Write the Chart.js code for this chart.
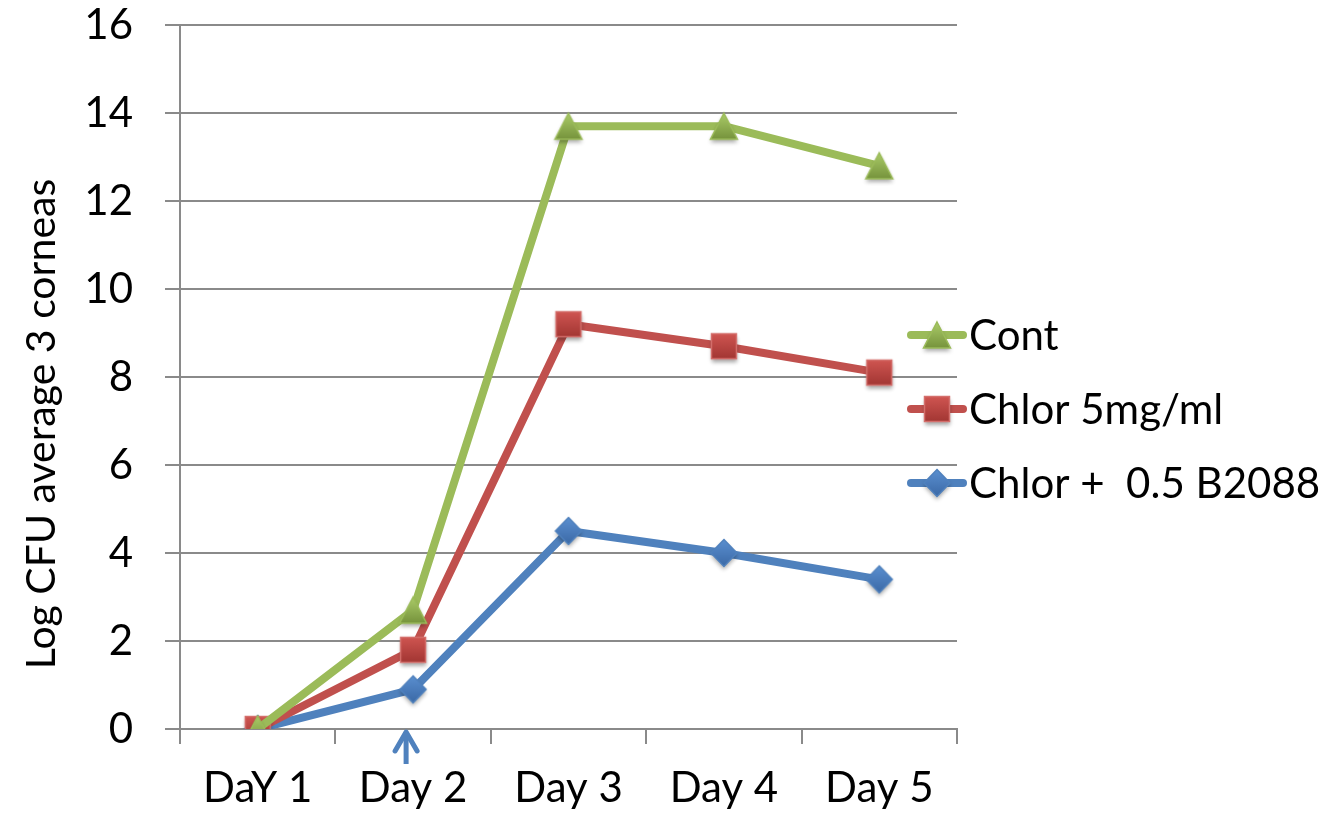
<!DOCTYPE html>
<html>
<head>
<meta charset="utf-8">
<script src="https://cdn.jsdelivr.net/npm/chart.js@4/dist/chart.umd.min.js"></script>
<style>
  html, body { margin: 0; padding: 0; background: #ffffff; }
  #c { display: block; }
</style>
</head>
<body>
<canvas id="c" width="1328" height="816"></canvas>
<script>
// ---- data ----
const days = ['DaY 1', 'Day 2', 'Day 3', 'Day 4', 'Day 5'];
const contValues = [0, 2.7, 13.7, 13.7, 12.8];
const chlorValues = [0, 1.8, 9.2, 8.7, 8.1];
const chlorB2088Values = [0, 0.9, 4.5, 4.0, 3.4];
const seriesNames = ['Cont', 'Chlor 5mg/ml', 'Chlor +  0.5 B2088'];
const yMin = 0, yMax = 16, yStep = 2;
const yTitle = 'Log CFU average 3 corneas';
const treatmentDayIndex = 1; // arrow under this day

// ---- styling ----
const FONT = 'Lato, "Open Sans", "Liberation Sans", sans-serif';
const FS = 42;
const GRID = '#8a8a8a';
const GREEN = '#9bbb59', RED = '#c0504d', BLUE = '#4f81bd';

// Marker images with a soft gradient and drop shadow
function makeMarker(kind) {
  const S = 44, c = S / 2;
  const cv = document.createElement('canvas');
  cv.width = S; cv.height = S;
  const g = cv.getContext('2d');
  g.shadowColor = 'rgba(0,0,0,0.35)';
  g.shadowBlur = 4;
  g.shadowOffsetY = 3;
  g.beginPath();
  let top, bottom, light, dark, edge;
  if (kind === 'triangle') {
    g.moveTo(c, c - 13); g.lineTo(c + 13.5, c + 13); g.lineTo(c - 13.5, c + 13);
    top = c - 13; bottom = c + 13; light = '#aacb68'; dark = '#76933c'; edge = '#9bbb59';
  } else if (kind === 'square') {
    g.rect(c - 12.5, c - 12.5, 25, 25);
    top = c - 12.5; bottom = c + 12.5; light = '#cf5551'; dark = '#a23633'; edge = '#d46f6c';
  } else {
    g.moveTo(c, c - 13.5); g.lineTo(c + 13, c); g.lineTo(c, c + 13.5); g.lineTo(c - 13, c);
    top = c - 13.5; bottom = c + 13.5; light = '#5a8fd0'; dark = '#3b69a6'; edge = '#4f81bd';
  }
  g.closePath();
  const grad = g.createLinearGradient(0, top, 0, bottom);
  grad.addColorStop(0, light);
  grad.addColorStop(1, dark);
  g.fillStyle = grad;
  g.fill();
  g.shadowColor = 'transparent';
  g.lineWidth = 1.5;
  g.strokeStyle = edge;
  g.stroke();
  return cv;
}
const markers = [makeMarker('triangle'), makeMarker('square'), makeMarker('diamond')];
const colors = [GREEN, RED, BLUE];
const seriesValues = [contValues, chlorValues, chlorB2088Values];

const datasets = seriesValues.map((vals, i) => ({
  label: seriesNames[i],
  data: vals,
  borderColor: colors[i],
  backgroundColor: colors[i],
  borderWidth: 8,
  borderJoinStyle: 'round',
  borderCapStyle: 'round',
  tension: 0,
  pointStyle: markers[i],
  pointRadius: 13,
  pointHoverRadius: 13,
  fill: false
}));

// Custom legend, axis title and treatment arrow
const extras = {
  id: 'extras',
  afterDraw(chart) {
    const ctx = chart.ctx;
    const xs = chart.scales.x, ys = chart.scales.y;

    // y-axis title
    ctx.save();
    ctx.fillStyle = '#000';
    ctx.font = '41px ' + FONT;
    ctx.textAlign = 'center';
    ctx.textBaseline = 'alphabetic';
    ctx.translate(55, 424);
    ctx.rotate(-Math.PI / 2);
    ctx.fillText(yTitle, 0, 0);
    ctx.restore();

    // legend
    const lx0 = 907, lx1 = 967, rowY = [335, 409, 483];
    chart.data.datasets.forEach((ds, i) => {
      const y = rowY[i];
      ctx.save();
      ctx.strokeStyle = ds.borderColor;
      ctx.lineWidth = 8;
      ctx.lineCap = 'round';
      ctx.beginPath();
      ctx.moveTo(lx0 + 4, y);
      ctx.lineTo(lx1 - 4, y);
      ctx.stroke();
      const m = ds.pointStyle;
      ctx.drawImage(m, (lx0 + lx1) / 2 - m.width / 2, y - m.height / 2);
      ctx.fillStyle = '#000';
      ctx.font = FS + 'px ' + FONT;
      ctx.textAlign = 'left';
      ctx.textBaseline = 'middle';
      ctx.fillText(ds.label, 969, y + 1);
      ctx.restore();
    });

    // arrow marking treatment start
    const ax = xs.getPixelForValue(treatmentDayIndex) - 7;
    const ay = ys.getPixelForValue(yMin);
    ctx.save();
    ctx.strokeStyle = BLUE;
    ctx.lineWidth = 5;
    ctx.lineCap = 'butt';
    ctx.lineJoin = 'round';
    ctx.beginPath();
    ctx.moveTo(ax, ay + 35);
    ctx.lineTo(ax, ay + 3);
    ctx.stroke();
    ctx.beginPath();
    ctx.lineCap = 'round';
    ctx.moveTo(ax - 11, ay + 22);
    ctx.lineTo(ax, ay + 3);
    ctx.lineTo(ax + 11, ay + 22);
    ctx.stroke();
    ctx.restore();
  }
};

new Chart(document.getElementById('c'), {
  type: 'line',
  data: { labels: days, datasets },
  options: {
    responsive: false,
    animation: false,
    events: [],
    layout: { padding: { top: 25, right: 371, left: 0, bottom: 0 } },
    plugins: { legend: { display: false }, tooltip: { enabled: false } },
    scales: {
      x: {
        offset: true,
        grid: { offset: true, drawOnChartArea: false, drawTicks: true, tickLength: 15, color: GRID, lineWidth: 2 },
        border: { display: true, color: GRID, width: 2 },
        ticks: { color: '#000', font: { family: FONT, size: FS }, padding: 19, maxRotation: 0, autoSkip: false },
        afterFit(s) { s.height = 87; s.paddingLeft = 0; s.paddingRight = 0; }
      },
      y: {
        min: yMin, max: yMax,
        grid: { color: GRID, lineWidth: 2, tickLength: 15, drawTicks: true },
        border: { display: true, color: GRID, width: 2 },
        ticks: { stepSize: yStep, color: '#000', font: { family: FONT, size: FS }, padding: 32 },
        afterFit(s) { s.width = 180; s.paddingTop = 0; s.paddingBottom = 0; }
      }
    }
  },
  plugins: [extras]
});
</script>
</body>
</html>
